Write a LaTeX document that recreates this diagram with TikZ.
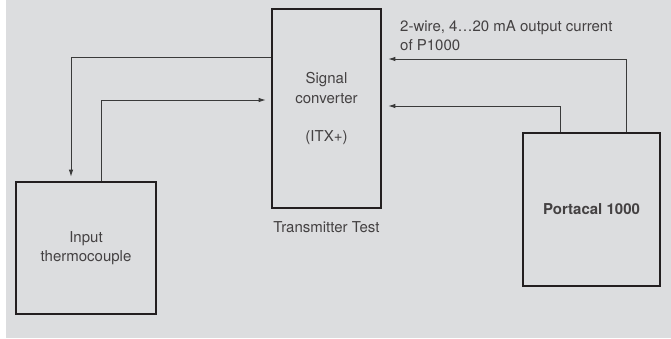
\documentclass[tikz,border=0pt]{standalone}
\usepackage{fontspec}
\setmainfont{TeX Gyre Heros}
\usetikzlibrary{arrows.meta, positioning}
\definecolor{ppgray}{HTML}{DCDDDF}
\definecolor{ppink}{HTML}{231F20}
\definecolor{ppwire}{HTML}{3A3A3A}

\begin{document}
\begin{tikzpicture}[x=1pt, y=-1pt,
    unitbox/.style={rectangle, draw=ppink, line width=2.6pt, align=center,
                 font=\fontsize{15}{19.5}\selectfont, text=ppink!85},
    note/.style={align=left, inner sep=0pt, font=\fontsize{15}{19.5}\selectfont, text=ppink!85},
    arr/.style={-{Latex[length=7pt, width=4.5pt]}, line width=0.9pt, draw=ppwire}
  ]
    \useasboundingbox (0,0) rectangle (671,338);
    \fill[ppgray] (6,0) rectangle (671,338);
    \node[unitbox, minimum width=109pt, minimum height=199pt] (sc) at (326.5,108.5)
      {Signal\\ converter\\[19pt] (ITX+)};
    \node[unitbox, minimum width=140pt, minimum height=132pt] (tc) at (86,248)
      {Input\\ thermocouple};
    \node[unitbox, minimum width=137pt, minimum height=153pt, font=\fontsize{15}{19.5}\selectfont\bfseries] (pc) at (591.5,209.5)
      {Portacal 1000};
    \node[note, below=12pt of sc] (tt) {Transmitter Test};
    \node[note, anchor=north west] (lbl) at (400,20) {2-wire, 4…20 mA output current\\ of P1000};
    \draw[arr, shorten >=4pt] (sc.west |- 0,57) -| ([xshift=-15pt]tc.north);
    \draw[arr, shorten >=5pt] ([xshift=15pt]tc.north) |- (sc.west |- 0,100);
    \draw[arr, shorten >=6pt] ([xshift=34.5pt]pc.north) |- (sc.east |- 0,59);
    \draw[arr, shorten >=6pt] ([xshift=-31pt]pc.north) |- (sc.east |- 0,106);
  \end{tikzpicture}
\end{document}
